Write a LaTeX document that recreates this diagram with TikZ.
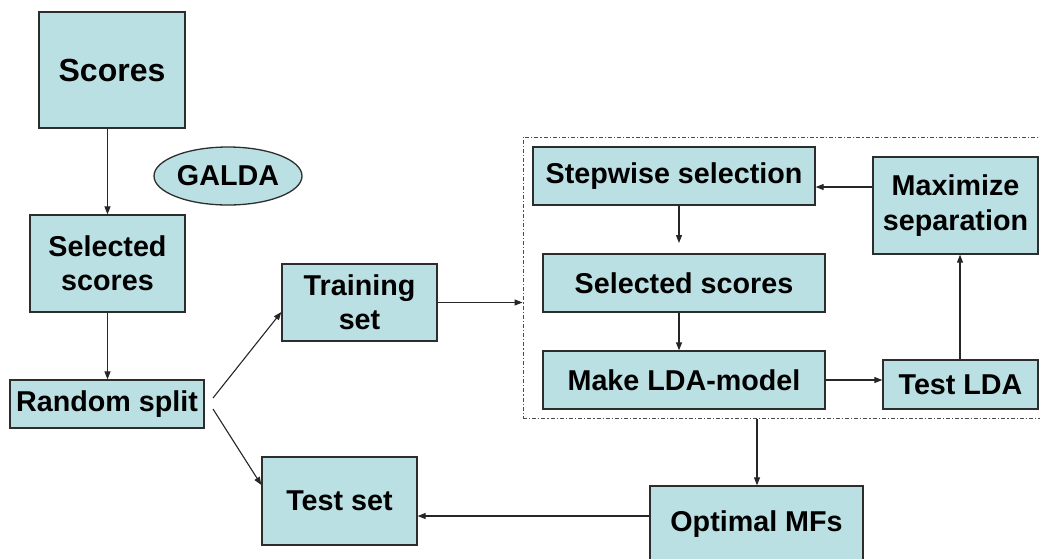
\documentclass[tikz,border=0pt]{standalone}
\usepackage{fontspec}
\setmainfont{Liberation Sans}
\usetikzlibrary{arrows.meta,shapes.geometric}
\definecolor{boxfill}{RGB}{187,224,227}
\definecolor{boxline}{RGB}{45,45,45}
\tikzset{
  box/.style={draw=boxline, line width=1.3pt, fill=boxfill, inner sep=0pt,
    align=center, font=\bfseries\fontsize{28.7}{34.4}\selectfont},
  conn/.style={draw=black!85, line width=1.1pt, -{Triangle[length=8pt,width=6pt]}},
  dashdot/.style={draw=black!70, line width=1pt, dash pattern=on 4pt off 2pt on 1.2pt off 2pt},
}
\begin{document}
\begin{tikzpicture}[x=1pt,y=-1pt]
\useasboundingbox (0,0) rectangle (1040,558);
\clip (0,0) rectangle (1040,558);
% dashed frame
\node[dashdot, minimum width=525pt, minimum height=281pt, inner sep=0pt] (frame) at (785.5,277.5) {};
% nodes
\node[box, minimum width=146pt, minimum height=116pt, font=\bfseries\fontsize{32}{38}\selectfont] (scores) at (112,70) {Scores};
\node[box, ellipse, minimum width=148pt, minimum height=58pt] (galda) at (228,176) {GALDA};
\node[box, minimum width=155pt, minimum height=97pt] (sel) at (107.5,263.5) {Selected\\scores};
\node[box, minimum width=194pt, minimum height=48pt] (rs) at (107,404) {Random split};
\node[box, minimum width=155pt, minimum height=77pt] (train) at (359.5,302.5) {Training\\set};
\node[box, minimum width=155pt, minimum height=88pt] (test) at (339.5,501) {Test set};
\node[box, minimum width=282pt, minimum height=58pt] (step) at (674,176) {Stepwise selection};
\node[box, minimum width=282pt, minimum height=58pt] (sel2) at (684,283) {Selected scores};
\node[box, minimum width=282pt, minimum height=58pt] (lda) at (684,380) {Make LDA-model};
\node[box, minimum width=155pt, minimum height=49pt] (tlda) at (960.5,384.5) {Test LDA};
\node[box, minimum width=165pt, minimum height=97pt] (max) at (955.5,205.5) {Maximize\\separation};
\node[box, minimum width=213pt, minimum height=76pt] (opt) at (756.5,524) {Optimal MFs};
% helper coordinates
\coordinate (rsA) at (213,398);
\coordinate (rsB) at (213,409);
\coordinate (stepEnd) at (679,243);
% connectors
\draw[conn] (sel.north |- scores.south) -- (sel.north);
\draw[conn] (sel.south) -- (rs.north -| sel.south);
\draw[conn] (rsA) -- (train.west |- 0,312);
\draw[conn] (rsB) -- (test.west |- 0,485);
\draw[conn] (train.east) -- (frame.west |- train.east);
\draw[conn] (stepEnd |- step.south) -- (stepEnd);
\draw[conn] (stepEnd |- sel2.south) -- (stepEnd |- lda.north);
\draw[conn] (lda.east) -- (tlda.west |- lda.east);
\draw[conn] (960,0 |- tlda.north) -- (960,0 |- max.south);
\draw[conn] (max.west |- 0,187) -- (step.east |- 0,187);
\draw[conn] (757,0 |- frame.south) -- (757,0 |- opt.north);
\draw[conn] (opt.west |- 0,516) -- (test.east |- 0,516);
\end{tikzpicture}
\end{document}
